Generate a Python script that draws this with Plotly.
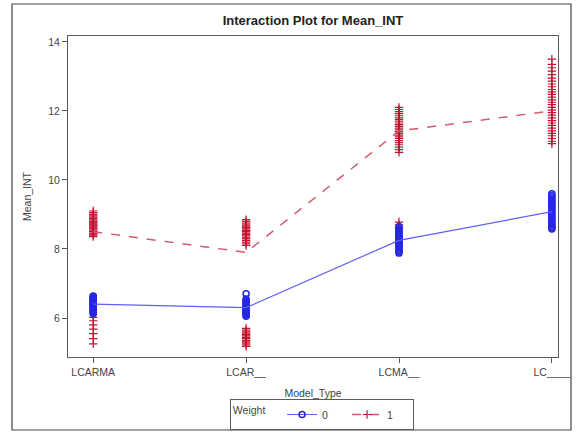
import plotly.graph_objects as go

categories = ["LCARMA", "LCAR__", "LCMA__", "LC____"]
y_ticks = [6, 8, 10, 12, 14]

# Mean_INT observations, Weight = 0
w0_lcarma = [6.12, 6.15, 6.18, 6.2, 6.22, 6.25, 6.27, 6.3, 6.32, 6.34, 6.36, 6.38, 6.4,
             6.41, 6.43, 6.45, 6.47, 6.49, 6.5, 6.52, 6.54, 6.56, 6.58, 6.6, 6.62, 6.64]
w0_lcar = [6.05, 6.08, 6.1, 6.13, 6.15, 6.18, 6.2, 6.22, 6.25, 6.27, 6.3, 6.32, 6.35,
           6.37, 6.4, 6.42, 6.45, 6.48, 6.5, 6.55, 6.7]
w0_lcma = [7.88, 7.92, 7.96, 8.0, 8.04, 8.08, 8.12, 8.16, 8.2, 8.24, 8.28, 8.32, 8.36,
           8.4, 8.44, 8.48, 8.52, 8.56, 8.6, 8.65]
w0_lc = [8.58, 8.62, 8.66, 8.7, 8.75, 8.8, 8.85, 8.9, 8.95, 9.0, 9.05, 9.1, 9.15, 9.2,
         9.25, 9.3, 9.35, 9.4, 9.45, 9.5, 9.55, 9.6]

# Mean_INT observations, Weight = 1
w1_lcarma = [8.36, 8.4, 8.43, 8.46, 8.5, 8.52, 8.55, 8.58, 8.6, 8.63, 8.66, 8.69, 8.72,
             8.75, 8.78, 8.8, 8.84, 8.88, 8.92, 8.96, 9.0, 9.05, 9.1,
             5.25, 5.4, 5.55, 5.68, 5.8, 5.92, 6.02]
w1_lcar = [8.1, 8.15, 8.2, 8.25, 8.3, 8.34, 8.38, 8.42, 8.46, 8.5, 8.54, 8.58, 8.62,
           8.66, 8.7, 8.75, 8.8, 8.85,
           5.18, 5.22, 5.27, 5.31, 5.35, 5.4, 5.44, 5.48, 5.52, 5.56, 5.6, 5.65, 5.7]
w1_lcma = [10.8, 10.88, 10.95, 11.02, 11.08, 11.14, 11.2, 11.25, 11.3, 11.35, 11.4,
           11.45, 11.5, 11.55, 11.6, 11.65, 11.7, 11.75, 11.8, 11.86, 11.92, 11.98,
           12.04, 12.1, 8.62, 8.7, 8.78]
w1_lc = [11.05, 11.12, 11.2, 11.28, 11.35, 11.42, 11.5, 11.58, 11.65, 11.72, 11.8,
         11.88, 11.95, 12.02, 12.1, 12.18, 12.25, 12.32, 12.4, 12.48, 12.55, 12.62,
         12.7, 12.78, 12.86, 12.95, 13.05, 13.15, 13.25, 13.35, 13.5]

# Means per model type
mean_w0 = [6.4, 6.3, 8.25, 9.08]
mean_w1 = [8.5, 7.9, 11.42, 12.0]

BLUE_PT = "#2626e6"
RED_PT = "#c01530"
BLUE_LN = "#6060f0"
RED_LN = "#d35a6a"
FONT = "Liberation Sans, Arial, sans-serif"
TXT = "#444444"

def stack(groups):
    xs, ys = [], []
    for cat, vals in zip(categories, groups):
        xs += [cat] * len(vals)
        ys += vals
    return xs, ys

x0, y0 = stack([w0_lcarma, w0_lcar, w0_lcma, w0_lc])
x1, y1 = stack([w1_lcarma, w1_lcar, w1_lcma, w1_lc])

blue_marker = dict(symbol="circle-open", size=6, color=BLUE_PT,
                   line=dict(color=BLUE_PT, width=1.5))
red_marker = dict(symbol="cross-thin-open", size=6, color=RED_PT,
                  line=dict(color=RED_PT, width=1.2))

fig = go.Figure()
fig.add_trace(go.Scatter(x=x1, y=y1, mode="markers", showlegend=False,
                         marker=red_marker))
fig.add_trace(go.Scatter(x=x0, y=y0, mode="markers", showlegend=False,
                         marker=blue_marker))
fig.add_trace(go.Scatter(x=categories, y=mean_w0, mode="lines", showlegend=False,
                         line=dict(color=BLUE_LN, width=1.2)))
fig.add_trace(go.Scatter(x=categories, y=mean_w1, mode="lines", showlegend=False,
                         line=dict(color=RED_LN, width=1.5, dash="dash")))
# legend entries (line + marker sample)
fig.add_trace(go.Scatter(x=[None], y=[None], mode="lines+markers", name="0",
                         line=dict(color=BLUE_LN, width=1.2), marker=blue_marker))
fig.add_trace(go.Scatter(x=[None], y=[None], mode="lines+markers", name="1",
                         line=dict(color=RED_LN, width=1.5, dash="dash"),
                         marker=red_marker))

axis_common = dict(
    showline=True, linecolor="#5a5a5a", linewidth=1, mirror=True,
    showgrid=False, zeroline=False, ticks="outside", ticklen=5, automargin=False,
    tickcolor="#5a5a5a", tickfont=dict(family=FONT, size=10.5, color=TXT),
)

fig.update_layout(
    width=576, height=432,
    margin=dict(l=68, r=18, t=36, b=75),
    paper_bgcolor="white", plot_bgcolor="white",
    title=dict(text="<b>Interaction Plot for Mean_INT</b>", x=0.5, xref="paper",
               y=1 - 20 / 432, yref="container", yanchor="middle", xanchor="center",
               font=dict(family=FONT, size=13, color="#222222")),
    xaxis=dict(type="category", categoryorder="array", categoryarray=categories,
               range=[-0.165, 3.04],
               title=dict(text="Model_Type", standoff=17,
                          font=dict(family=FONT, size=10.5, color=TXT)),
               **axis_common),
    yaxis=dict(range=[4.87, 14.17], tickvals=y_ticks,
               title=dict(text="Mean_INT", standoff=14,
                          font=dict(family=FONT, size=10.5, color=TXT)),
               **axis_common),
    legend=dict(orientation="h", x=0.518, xanchor="center",
                yref="container", y=1 - 399 / 432, yanchor="top",
                bordercolor="#5a5a5a", borderwidth=1, valign="middle",
                title=dict(text="Weight   ", side="left",
                           font=dict(family=FONT, size=10.5, color=TXT)),
                font=dict(family=FONT, size=10.5, color=TXT),
                entrywidth=20, entrywidthmode="pixels", tracegroupgap=0),
    shapes=[dict(type="rect", xref="paper", yref="paper",
                 x0=(12 - 68) / 490, x1=(571 - 68) / 490,
                 y0=-(430 - 357) / 321, y1=1 + (36 - 4) / 321,
                 line=dict(color="#444444", width=1.2), layer="below")],
)

fig.write_html("out.html")
